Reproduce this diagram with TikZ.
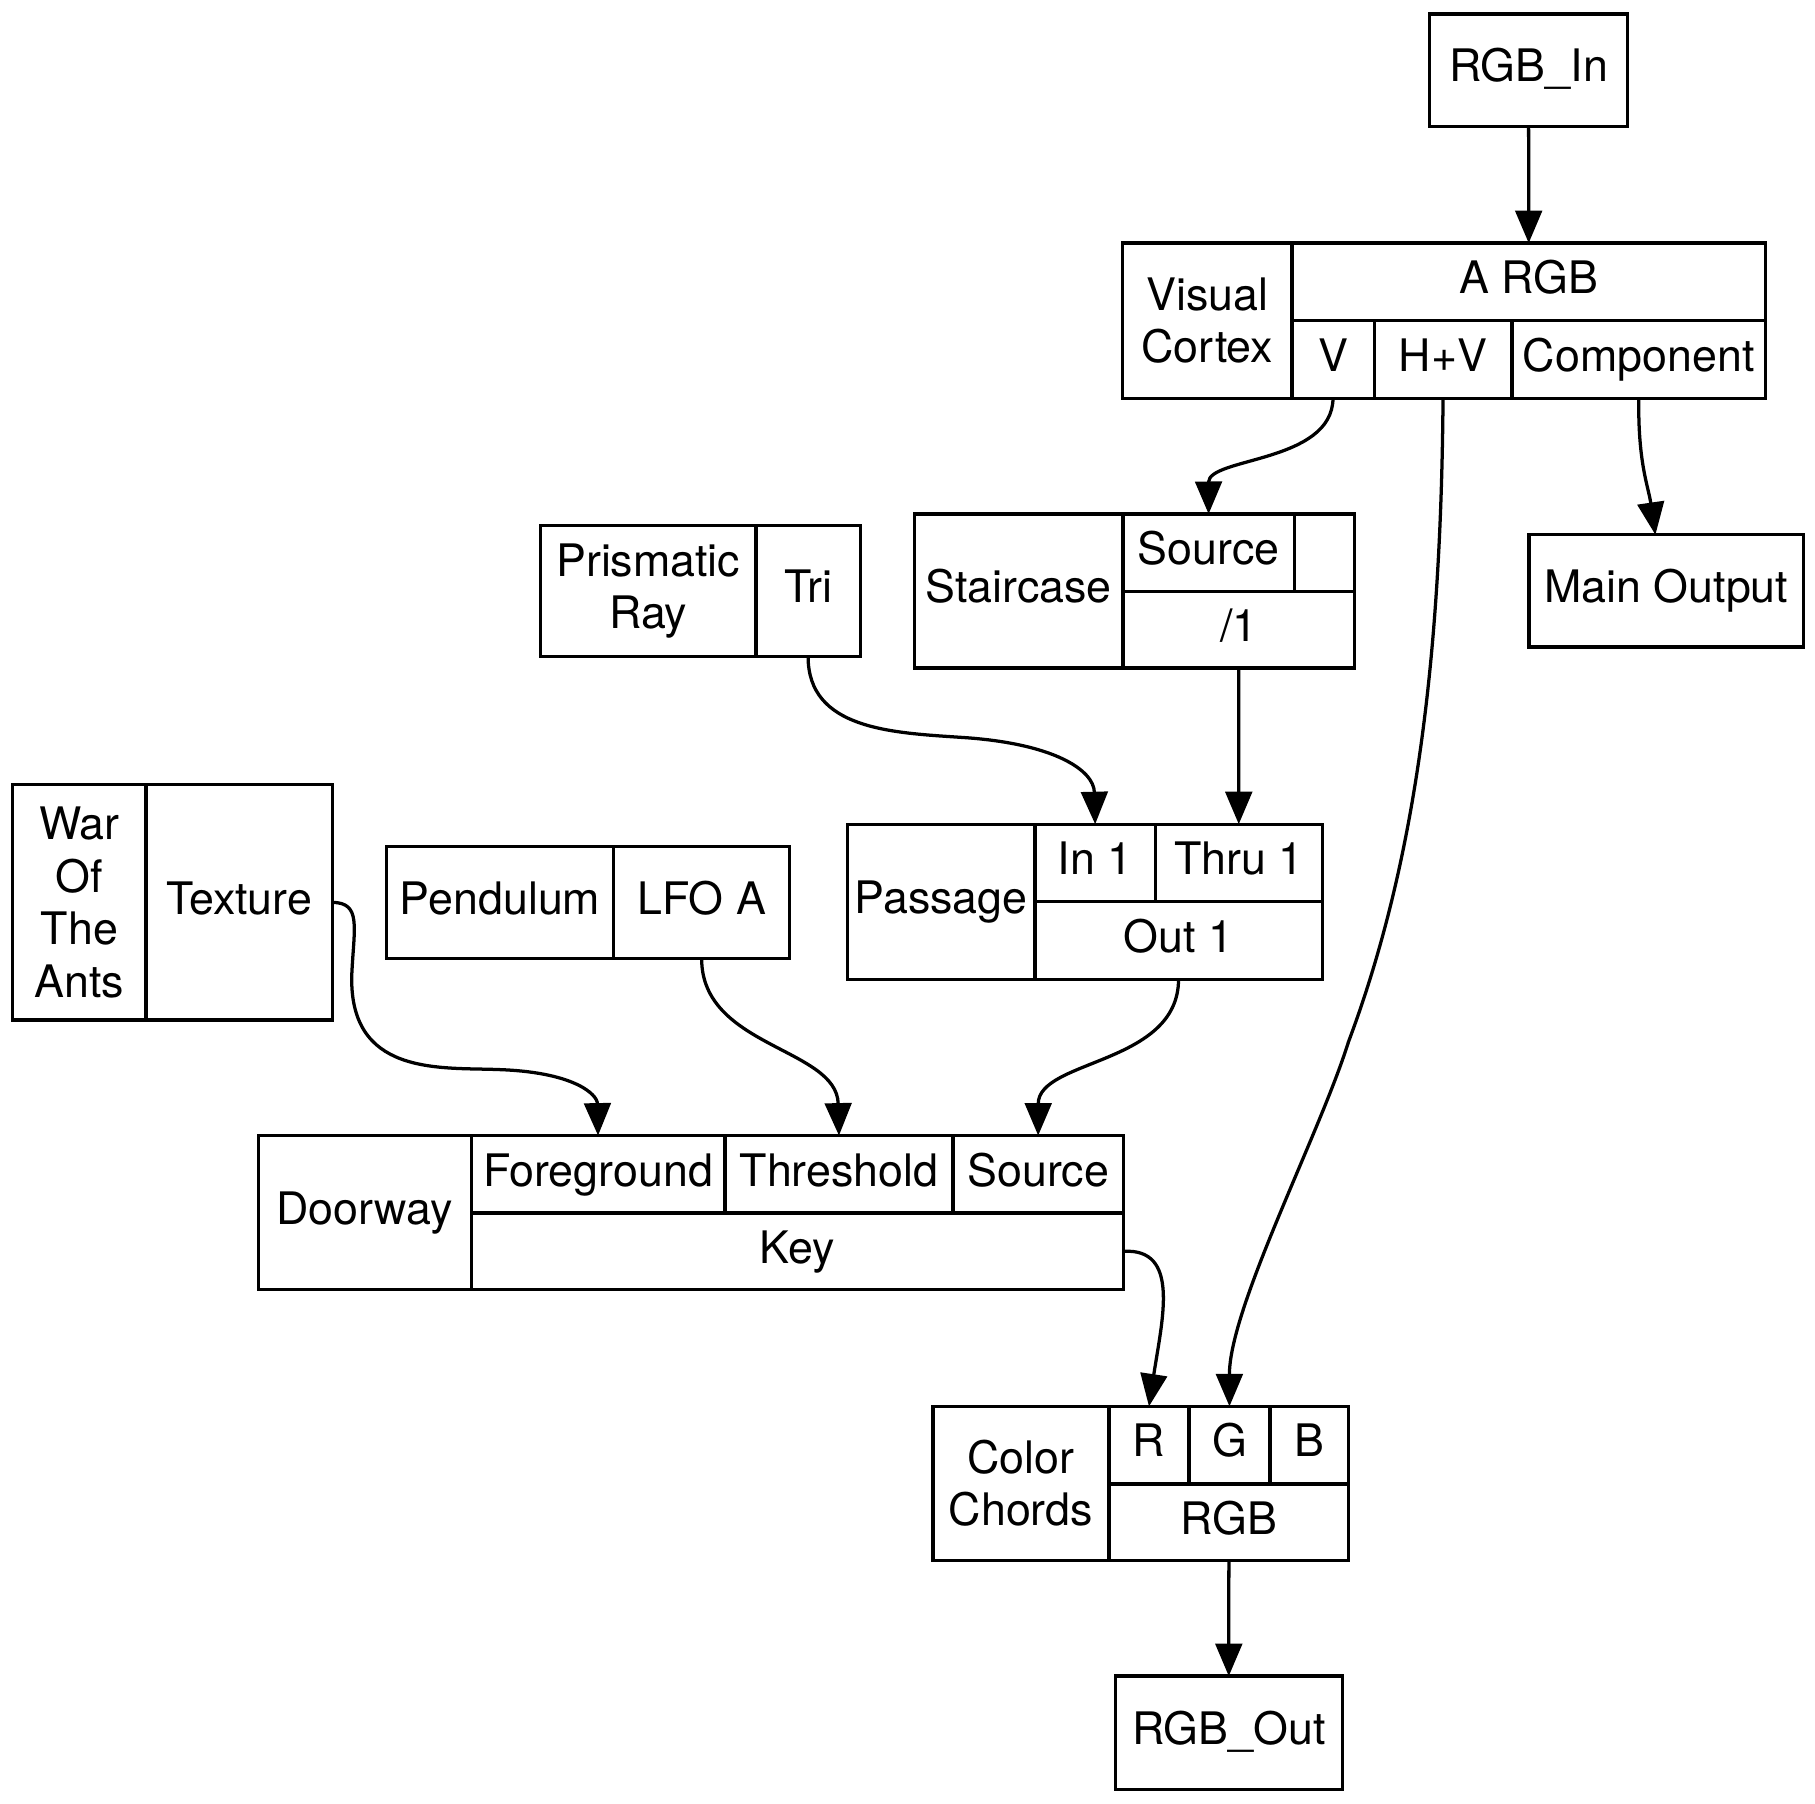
\documentclass[tikz,border=0pt]{standalone}
\usepackage{fontspec}
\setmainfont{TeX Gyre Heros}
\usepackage{tikz}
\usetikzlibrary{arrows.meta}

\begin{document}
\begin{tikzpicture}[x=0.01cm, y=-0.01cm]
    \tikzstyle{field} = [rectangle, draw=black, thick, inner sep=0pt, outer sep=0pt, anchor=north west, align=center, font=\fontsize{11pt}{12.9pt}\selectfont]
    \tikzstyle{port} = [field, text height=0.75em, text depth=0.17em]
    \tikzstyle{arrow} = [thick, -{Triangle[length=2.8mm, width=2.3mm]}]

    \useasboundingbox (0,0) rectangle (1568,1558);

    % records
    \node (rgbin) [port, minimum width=1.71cm, minimum height=0.97cm] at (1235,12) {RGB\_In};

    \node (vc) [field, minimum width=1.46cm, minimum height=1.34cm] at (970,210) {Visual\\Cortex};
    \node (vcargb) [port, minimum width=4.09cm, minimum height=0.67cm] at (vc.north east) {A RGB};
    \node (vcv) [port, minimum width=0.71cm, minimum height=0.67cm] at (vcargb.south west) {V};
    \node (vchv) [port, minimum width=1.19cm, minimum height=0.67cm] at (vcv.north east) {H+V};
    \node (vccomp) [port, minimum width=2.19cm, minimum height=0.67cm] at (vchv.north east) {Component};

    \node (sc) [port, minimum width=1.80cm, minimum height=1.33cm] at (790,444) {Staircase};
    \node (scsrc) [port, minimum width=1.48cm, minimum height=0.67cm] at (sc.north east) {Source};
    \node (scempty) [port, minimum width=0.52cm, minimum height=0.67cm] at (scsrc.north east) {};
    \node (scdiv) [port, minimum width=2.00cm, minimum height=0.66cm] at (scsrc.south west) {/1};

    \node (mainout) [port, minimum width=2.37cm, minimum height=0.97cm] at (1321,462) {Main Output};

    \node (pr) [field, minimum width=1.86cm, minimum height=1.13cm] at (467,454) {Prismatic\\Ray};
    \node (prtri) [port, minimum width=0.90cm, minimum height=1.13cm] at (pr.north east) {Tri};

    \node (wa) [field, minimum width=1.15cm, minimum height=2.03cm] at (11,678) {War\\Of\\The\\Ants};
    \node (watex) [port, minimum width=1.61cm, minimum height=2.03cm] at (wa.north east) {Texture};

    \node (pd) [port, minimum width=1.96cm, minimum height=0.97cm] at (334,731) {Pendulum};
    \node (pdlfo) [port, minimum width=1.52cm, minimum height=0.97cm] at (pd.north east) {LFO A};

    \node (ps) [port, minimum width=1.62cm, minimum height=1.34cm] at (732,712) {Passage};
    \node (psin) [port, minimum width=1.04cm, minimum height=0.67cm] at (ps.north east) {In 1};
    \node (psthru) [port, minimum width=1.44cm, minimum height=0.67cm] at (psin.north east) {Thru 1};
    \node (psout) [port, minimum width=2.48cm, minimum height=0.67cm] at (psin.south west) {Out 1};

    \node (dw) [port, minimum width=1.84cm, minimum height=1.33cm] at (223,981) {Doorway};
    \node (dwfg) [port, minimum width=2.19cm, minimum height=0.67cm] at (dw.north east) {Foreground};
    \node (dwth) [port, minimum width=1.97cm, minimum height=0.67cm] at (dwfg.north east) {Threshold};
    \node (dwsrc) [port, minimum width=1.47cm, minimum height=0.67cm] at (dwth.north east) {Source};
    \node (dwkey) [port, minimum width=5.63cm, minimum height=0.66cm] at (dwfg.south west) {Key};

    \node (cc) [field, minimum width=1.52cm, minimum height=1.33cm] at (806,1215) {Color\\Chords};
    \node (ccr) [port, minimum width=0.69cm, minimum height=0.67cm] at (cc.north east) {R};
    \node (ccg) [port, minimum width=0.70cm, minimum height=0.67cm] at (ccr.north east) {G};
    \node (ccb) [port, minimum width=0.68cm, minimum height=0.67cm] at (ccg.north east) {B};
    \node (ccrgb) [port, minimum width=2.07cm, minimum height=0.66cm] at (ccr.south west) {RGB};

    \node (rgbout) [port, minimum width=1.96cm, minimum height=0.98cm] at (963.5,1448) {RGB\_Out};

    % edges
    \draw [arrow] (rgbin) -- (vcargb);
    \draw [arrow] (vcv.south) .. controls (1151,400) and (1044,395) .. (scsrc.north);
    \draw [arrow] (vchv.south) .. controls (1245,560) and (1225,740) .. (1165,900) .. controls (1140,980) and (1062,1130) .. (ccg.north);
    \draw [arrow] (vccomp.south) .. controls (1415,400) and (1424,420) .. (mainout.101);
    \draw [arrow] (prtri.south) .. controls (698,630) and (770,633) .. (830,637) .. controls (910,642) and (945,665) .. (psin.north);
    \draw [arrow] (scdiv) -- (psthru);
    \draw [arrow] (watex.east) .. controls (312,780) and (306,800) .. (304,840) .. controls (300,930) and (380,922) .. (430,924) .. controls (495,926) and (516,945) .. (dwfg.north);
    \draw [arrow] (pdlfo.south) .. controls (606,905) and (723,905) .. (dwth.north);
    \draw [arrow] (psout.south) .. controls (1018,920) and (897,915) .. (dwsrc.north);
    \draw [arrow] (dwkey.east) .. controls (1020,1078) and (1004,1140) .. (ccr.north);
    \draw [arrow] (ccrgb.south) -- (rgbout.north);
\end{tikzpicture}
\end{document}
